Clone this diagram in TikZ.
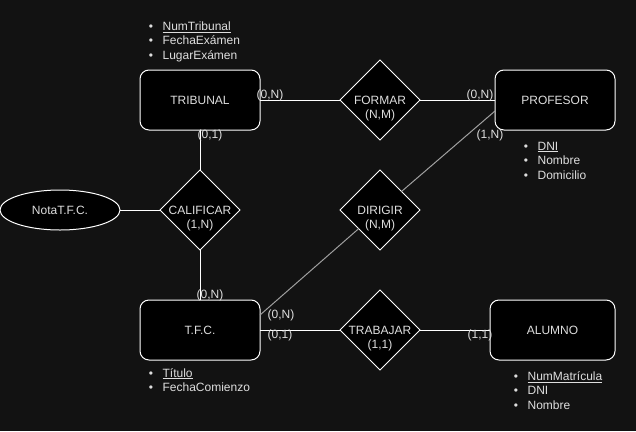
\documentclass[tikz,border=0pt]{standalone}
\usepackage{fontspec}
\setmainfont{Liberation Sans}
\usepackage{xcolor}
\usepackage{tikz}
\usetikzlibrary{positioning,shapes.geometric}
\definecolor{bgdark}{RGB}{18,18,18}
\definecolor{inkgray}{RGB}{222,222,222}
\definecolor{linkgray}{RGB}{160,160,160}

\begin{document}
\begin{tikzpicture}[x=1pt, y=-1pt, node distance=40pt, font=\fontsize{12}{14.5}\selectfont,
    entity/.style={draw=white, fill=black, text=inkgray, line width=1pt, outer sep=0pt, rounded corners=9pt, minimum width=120pt, minimum height=60pt},
    relation/.style={diamond, draw=white, fill=black, text=inkgray, line width=1pt, outer sep=0pt, inner sep=0pt, minimum size=80pt},
    attribute/.style={ellipse, draw=white, fill=black, text=inkgray, line width=1pt, outer sep=0pt, inner sep=0pt, minimum width=120pt, minimum height=40pt},
    card/.style={text=inkgray, inner sep=0pt},
    attrs/.style={text=inkgray, inner sep=0pt, align=left, anchor=north west},
    link/.style={draw=white, line width=1pt},
    glink/.style={draw=linkgray, line width=1pt}]
    \fill[bgdark, use as bounding box] (0,0) rectangle (636,431);

    \node[entity] (tribunal) at (200,100) {TRIBUNAL};
    \node[relation] (formar) [right=80pt of tribunal] {FORMAR};
    \node[entity] (profesor) [right=75pt of formar] {PROFESOR};
    \node[relation] (calificar) [below=of tribunal] {CALIFICAR};
    \node[attribute] (nota) [left=of calificar] {NotaT.F.C.};
    \node[entity] (tfc) [below=50pt of calificar] {T.F.C.};
    \node[relation] (dirigir) [below=30pt of formar] {DIRIGIR};
    \node[relation] (trabajar) [below=of dirigir] {TRABAJAR};
    \node[entity, minimum width=125pt] (alumno) [right=70pt of trabajar] {ALUMNO};

    \node[card] (formarCard) at ([yshift=-15.5pt]formar.center) {(N,M)};
    \node[card] (calificarCard) at ([yshift=-15.5pt]calificar.center) {(1,N)};
    \node[card] (dirigirCard) at ([yshift=-15.5pt]dirigir.center) {(N,M)};
    \node[card] (trabajarCard) at ([yshift=-15.5pt]trabajar.center) {(1,1)};

    \draw[link] (tribunal) -- (formar);
    \draw[link] (formar) -- (profesor);
    \draw[link] (tribunal) -- (calificar);
    \draw[link] (calificar) -- (tfc);
    \draw[link] (nota) -- (calificar);
    \draw[link] (tfc) -- (trabajar);
    \draw[link] (trabajar) -- (alumno);
    \draw[glink] ([yshift=15pt]tfc.east) -- (dirigir) -- ([yshift=-11pt]profesor.west);

    \node[card] (tribFormar) at (270,95) {(0,N)};
    \node[card] (profFormar) at (480,95) {(0,N)};
    \node[card] (profDirigir) at (490,135) {(1,N)};
    \node[card] (tribCalificar) at (210,135) {(0,1)};
    \node[card] (tfcCalificar) at (210,295) {(0,N)};
    \node[card] (tfcDirigir) at (281,315) {(0,N)};
    \node[card] (tfcTrabajar) at (280,335) {(0,1)};
    \node[card] (alumTrabajar) at (480,335) {(1,1)};

    \node[attrs] (tribAttrs) at (148.6,21.3) {\makebox[13.8pt][l]{\textbullet}\underline{NumTribunal}\\
      \makebox[13.8pt][l]{\textbullet}FechaExámen\\
      \makebox[13.8pt][l]{\textbullet}LugarExámen};
    \node[attrs] (profAttrs) at (523.6,141.6) {\makebox[13.8pt][l]{\textbullet}\underline{DNI}\\
      \makebox[13.8pt][l]{\textbullet}Nombre\\
      \makebox[13.8pt][l]{\textbullet}Domicilio};
    \node[attrs] (tfcAttrs) at (148.6,368) {\makebox[13.8pt][l]{\textbullet}\underline{Título}\\
      \makebox[13.8pt][l]{\textbullet}FechaComienzo};
    \node[attrs] (alumAttrs) at (513.6,371.3) {\makebox[13.8pt][l]{\textbullet}\underline{NumMatrícula}\\
      \makebox[13.8pt][l]{\textbullet}DNI\\
      \makebox[13.8pt][l]{\textbullet}Nombre};
  \end{tikzpicture}
\end{document}
